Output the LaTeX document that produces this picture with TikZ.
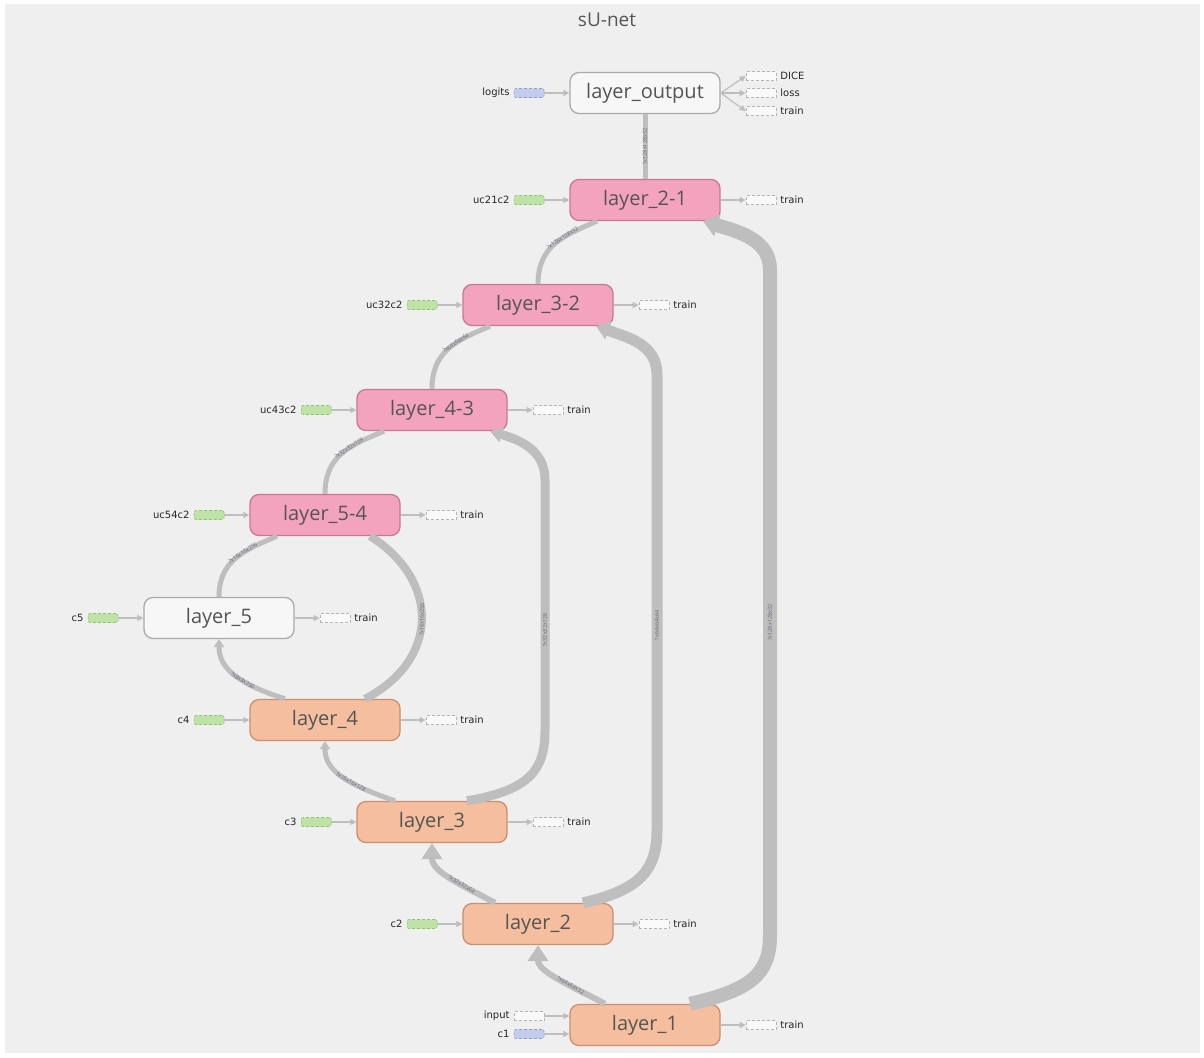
\documentclass[tikz,border=0pt]{standalone}
\usepackage{fontspec}
\setmainfont{Open Sans}
\newfontfamily\stubfont{DejaVu Sans}
\usetikzlibrary{positioning,arrows.meta}
\definecolor{bg}{HTML}{EFEFEF}
\definecolor{edgegray}{HTML}{BEBEBE}
\definecolor{txtgray}{HTML}{555555}
\definecolor{dimgray}{HTML}{666677}
\definecolor{pinkfill}{HTML}{F4A3BF}
\definecolor{pinkline}{HTML}{C77993}
\definecolor{orangefill}{HTML}{F5BE9F}
\definecolor{orangeline}{HTML}{C98F6F}
\definecolor{plainfill}{HTML}{F7F7F7}
\definecolor{plainline}{HTML}{AAAAAA}
\definecolor{greenfill}{HTML}{BFE3A6}
\definecolor{greenline}{HTML}{8DC46E}
\definecolor{bluefill}{HTML}{C3CDEB}
\definecolor{blueline}{HTML}{8F9FD2}
\definecolor{boxfill}{HTML}{F9F9F9}
\definecolor{boxline}{HTML}{B5B5B5}

\begin{document}
\begin{tikzpicture}[x=1pt,y=-1pt,
	layer/.style={rounded corners=9pt, minimum width=150pt, minimum height=41pt, line width=1.3pt, font=\fontsize{20}{24}\selectfont, text=txtgray},
	uplayer/.style={layer, fill=pinkfill, draw=pinkline},
	downlayer/.style={layer, fill=orangefill, draw=orangeline},
	plainlayer/.style={layer, fill=plainfill, draw=plainline},
	blob/.style={draw=#1line, fill=#1fill, densely dashed, rounded corners=2pt, minimum width=30pt, minimum height=9pt, inner sep=0pt, line width=0.6pt},
	outbox/.style={draw=boxline, fill=boxfill, densely dashed, minimum width=30pt, minimum height=9pt, inner sep=0pt, line width=0.6pt},
	stubtext/.style={font=\stubfont\fontsize{10}{11}\selectfont, text=black!85, inner sep=0pt},
	stub/.style={draw=edgegray, line width=1.2pt, -{Triangle[length=6pt,width=6pt]}},
	flow/.style={draw=edgegray, line width=#1},
	dims/.style={font=\fontsize{5.5}{6}\selectfont, text=dimgray, inner sep=0pt, sloped}]

	\useasboundingbox (0,0) rectangle (1204,1057);
	\fill[white] (0,0) rectangle (1204,1057);
	\fill[bg] (5,4) rectangle (1200,1053);

	\node[text=txtgray, font=\fontsize{19}{22}\selectfont] (title) at (607,20) {sU-net};

	% layers
	\node[plainlayer] (lout) at (645,93) {layer\_output};
	\node[uplayer] (l21) at (645,200) {layer\_2-1};
	\node[uplayer] (l32) at (538,305) {layer\_3-2};
	\node[uplayer] (l43) at (432,410) {layer\_4-3};
	\node[uplayer] (l54) at (325,515) {layer\_5-4};
	\node[plainlayer] (l5) at (219,618) {layer\_5};
	\node[downlayer] (l4) at (325,720) {layer\_4};
	\node[downlayer] (l3) at (432,822) {layer\_3};
	\node[downlayer] (l2) at (538,924) {layer\_2};
	\node[downlayer] (l1) at (645,1025) {layer\_1};

	% inputs
	\foreach \l/\t/\c in {lout/logits/blue, l21/uc21c2/green, l32/uc32c2/green, l43/uc43c2/green, l54/uc54c2/green, l5/c5/green, l4/c4/green, l3/c3/green, l2/c2/green}{
		\node[blob=\c, left=25pt of \l] (in-\l) {};
		\node[stubtext, left=4pt of in-\l] {\t};
		\draw[stub] (in-\l) -- (\l);
	}
	\node[outbox, left=25pt of l1.west, yshift=9pt] (in-x) {};
	\node[stubtext, left=4pt of in-x] {input};
	\draw[stub] (in-x) -- (in-x -| l1.west);
	\node[blob=blue, left=25pt of l1.west, yshift=-9pt] (in-c1) {};
	\node[stubtext, left=4pt of in-c1] {c1};
	\draw[stub] (in-c1) -- (in-c1 -| l1.west);

	% train outputs
	\foreach \l in {l21, l32, l43, l54, l5, l4, l3, l2, l1}{
		\node[outbox, right=25pt of \l] (out-\l) {};
		\node[stubtext, right=4pt of out-\l] {train};
		\draw[stub] (\l) -- (out-\l);
	}
	\foreach \t/\dy in {DICE/-17, loss/0, train/18}{
		\node[outbox, right=25pt of lout, yshift=-\dy pt] (out-\t) {};
		\node[stubtext, right=4pt of out-\t] {\t};
		\draw[stub] (lout.east) -- (out-\t.west);
	}

	% way down
	\draw[flow=6pt, -{Triangle[length=16pt,width=20pt]}] ([xshift=-40pt]l1.north) .. controls (570,985) and (538,972) .. node[dims, pos=0.35] {?x64x64x32} (l2.south);
	\draw[flow=6pt, -{Triangle[length=16pt,width=20pt]}] ([xshift=-43pt]l2.north) .. controls (460,884) and (432,872) .. node[dims, pos=0.35] {?x32x32x64} (l3.south);
	\draw[flow=5pt, -{Triangle[length=8pt,width=10pt]}] ([xshift=-37pt]l3.north) .. controls (340,782) and (325,768) .. node[dims, pos=0.35] {?x16x16x128} (l4.south);
	\draw[flow=5pt, -{Triangle[length=8pt,width=10pt]}] ([xshift=-40pt]l4.north) .. controls (232,682) and (219,665) .. node[dims, pos=0.35] {?x8x8x256} (l5.south);

	% way up
	\draw[flow=5pt] (l5.north) .. controls (219,560) and (245,550) .. node[dims, pos=0.6] {?x16x16x256} ([xshift=-48pt]l54.south);
	\draw[flow=5pt] (l54.north) .. controls (325,455) and (351,445) .. node[dims, pos=0.6] {?x32x32x128} ([xshift=-48pt]l43.south);
	\draw[flow=5pt] (l43.north) .. controls (432,350) and (458,340) .. node[dims, pos=0.6] {?x64x64x64} ([xshift=-48pt]l32.south);
	\draw[flow=5pt] (l32.north) .. controls (538,245) and (565,235) .. node[dims, pos=0.6] {?x128x128x32} ([xshift=-48pt]l21.south);
	\draw[flow=5pt] (l21.north) -- node[dims, pos=0.5] {?x128x128x32} (lout.south);

	% skips
	\draw[flow=8pt] ([xshift=40pt]l4.north) .. controls (440,660) and (440,580) .. node[dims, pos=0.5] {?x16x16x256} ([xshift=45pt]l54.south);
	\draw[flow=9pt, -{Triangle[length=12pt,width=15pt]}] ([xshift=35pt]l3.north) .. controls (530,790) and (545,770) .. (545,730) -- node[dims, pos=0.4] {?x32x32x128} (545,480) .. controls (545,450) and (520,440) .. ([xshift=58pt]l43.south);
	\draw[flow=11pt, -{Triangle[length=13pt,width=18pt]}] ([xshift=45pt]l2.north) .. controls (640,890) and (657,870) .. (657,830) -- node[dims, pos=0.45] {?x64x64x64} (657,375) .. controls (657,345) and (630,338) .. ([xshift=58pt]l32.south);
	\draw[flow=14pt, -{Triangle[length=15pt,width=22pt]}] ([xshift=45pt]l1.north) .. controls (750,990) and (770,975) .. (770,935) -- node[dims, pos=0.47] {?x128x128x32} (770,270) .. controls (770,240) and (740,232) .. ([xshift=58pt]l21.south);
\end{tikzpicture}
\end{document}
